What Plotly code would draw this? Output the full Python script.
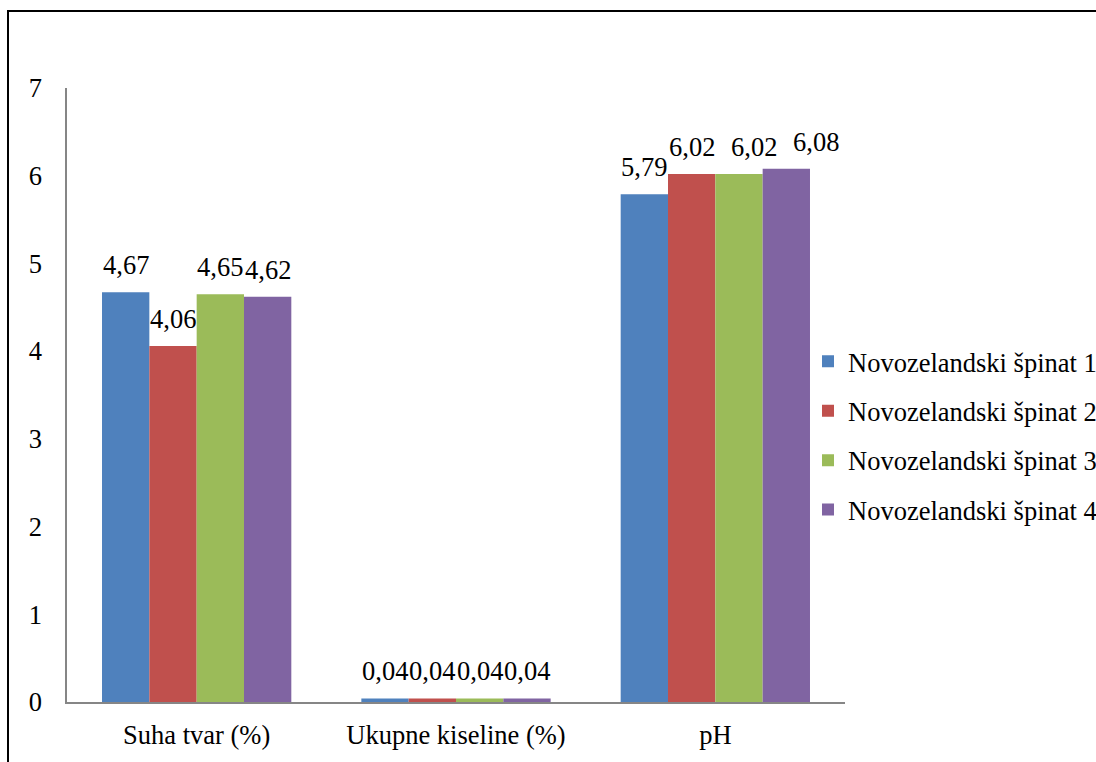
import plotly.graph_objects as go

categories = ["Suha tvar (%)", "Ukupne kiseline (%)", "pH"]
series_names = ["Novozelandski špinat 1", "Novozelandski špinat 2",
                "Novozelandski špinat 3", "Novozelandski špinat 4"]
spinat_1 = [4.67, 0.04, 5.79]
spinat_2 = [4.06, 0.04, 6.02]
spinat_3 = [4.65, 0.04, 6.02]
spinat_4 = [4.62, 0.04, 6.08]
y_ticks = [0, 1, 2, 3, 4, 5, 6, 7]

colors = ["#4F81BD", "#C0504D", "#9BBB59", "#8064A2"]
font_family = "Liberation Serif"
fs = 26.5
bargap = 0.27

# horizontal nudges (px) for crowded value labels: (series index, category index)
label_nudge = {(2, 2): 15, (3, 2): 30}

fig = go.Figure()
all_series = [spinat_1, spinat_2, spinat_3, spinat_4]
for name, vals, col in zip(series_names, all_series, colors):
    fig.add_trace(go.Bar(
        x=categories, y=vals, name=name, legendgroup=name,
        marker=dict(color=col, line=dict(width=0)),
        hovertemplate="%{x}: %{y:.2f}<extra>" + name + "</extra>",
    ))

# value labels above each bar, centred on its slot within the group
n = len(all_series)
bar_w = (1 - bargap) / n
for k, vals in enumerate(all_series):
    off = (k - (n - 1) / 2) * bar_w
    for i, v in enumerate(vals):
        fig.add_annotation(x=i + off, y=v, xref="x", yref="y",
                           text=f"{v:.2f}".replace(".", ","), showarrow=False,
                           yanchor="middle", yshift=27,
                           xshift=label_nudge.get((k, i), 0),
                           font=dict(family=font_family, size=fs, color="black"))

W, H = 1096, 762
L, R, T, B = 67, 251, 88, 60
pw, ph = W - L - R, H - T - B

fig.update_layout(
    width=W, height=H,
    margin=dict(l=L, r=R, t=T, b=B, autoexpand=False),
    paper_bgcolor="white", plot_bgcolor="white",
    separators=", ",
    barmode="group", bargap=bargap, bargroupgap=0,
    font=dict(family=font_family, size=fs, color="black"),
    showlegend=True,
    legend=dict(x=(808 - L) / pw, xanchor="left",
                y=1 - (435.5 - T) / ph, yanchor="middle",
                font=dict(family=font_family, size=fs, color="black"),
                tracegroupgap=12, itemwidth=30, bgcolor="rgba(0,0,0,0)"),
)
fig.update_xaxes(showline=True, linecolor="#868686", linewidth=1.5,
                 showgrid=False, ticks="", ticklabelstandoff=8,
                 tickfont=dict(family=font_family, size=fs, color="black"))
fig.update_yaxes(range=[0, 7], tickvals=y_ticks, showline=True, linecolor="#868686",
                 linewidth=1.5, showgrid=False, zeroline=False, ticks="",
                 ticklabelstandoff=18,
                 tickfont=dict(family=font_family, size=fs, color="black"))

# outer frame around the chart
fig.add_shape(type="rect", xref="paper", yref="paper",
              x0=(8 - L) / pw, x1=(W + 60 - L) / pw,
              y0=-(B + 60) / ph, y1=1 + (T - 11) / ph,
              line=dict(color="black", width=2), fillcolor="rgba(0,0,0,0)",
              layer="above")

fig.write_html("out.html")
